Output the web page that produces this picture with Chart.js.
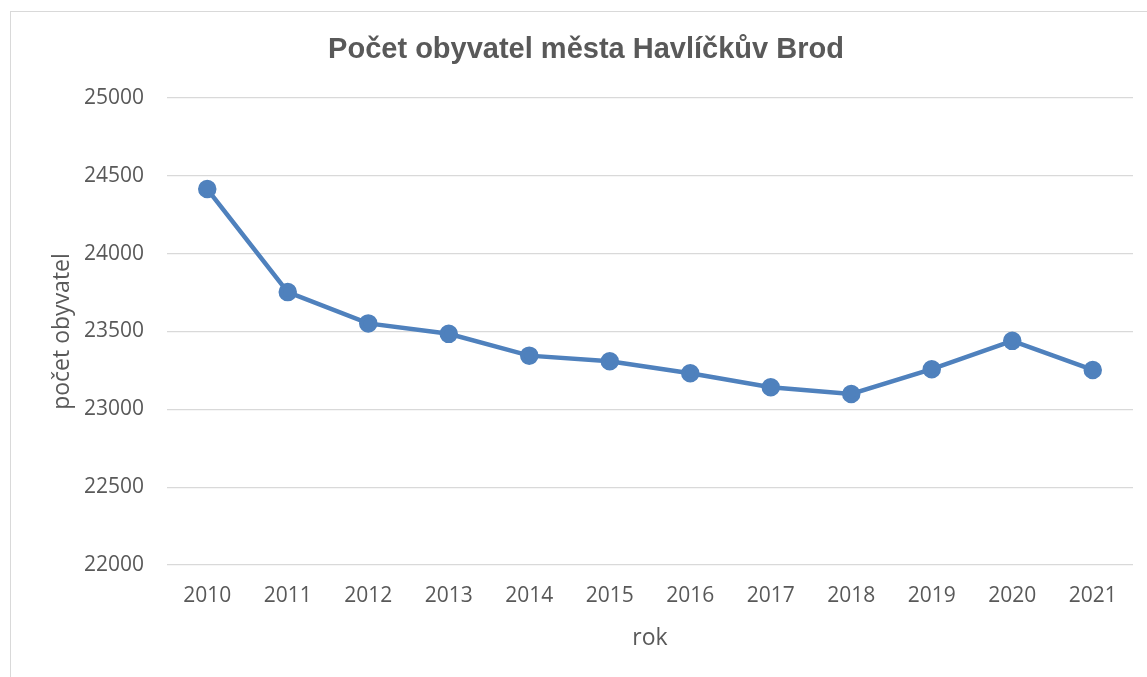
<!DOCTYPE html>
<html>
<head>
<meta charset="utf-8">
<script src="https://cdn.jsdelivr.net/npm/chart.js@4"></script>
<style>
  html, body { margin: 0; padding: 0; background: #fff; overflow: hidden; }
  #frame { position: absolute; left: 10px; top: 11px; width: 1150px; height: 700px; border: 1px solid #d9d9d9; }
</style>
</head>
<body>
<div id="frame"><canvas id="chartObyvatel" width="1150" height="700"></canvas></div>
<script>
const roky = ['2010', '2011', '2012', '2013', '2014', '2015', '2016', '2017', '2018', '2019', '2020', '2021'];
const obyvatele = [24415, 23753, 23552, 23485, 23345, 23309, 23232, 23142, 23099, 23258, 23440, 23253];
const osaY = [22000, 22500, 23000, 23500, 24000, 24500, 25000];

const textColor = '#595959';
const ctx = document.getElementById('chartObyvatel');

new Chart(ctx, {
    type: 'line',
    data: {
        labels: roky,
        datasets: [{
            label: 'počet obyvatel',
            data: obyvatele,
            borderColor: '#4f81bd',
            backgroundColor: '#4f81bd',
            borderWidth: 4.5,
            pointRadius: 7,
            pointHoverRadius: 7,
            tension: 0
        }]
    },
    options: {
        responsive: false,
        animation: false,
        // same padding on both sides so the title sits in the middle of the frame
        layout: { padding: { left: 28, right: 28, top: 0, bottom: 0 } },
        plugins: {
            legend: { display: false },
            tooltip: { enabled: false },
            title: {
                display: true,
                text: 'Počet obyvatel města Havlíčkův Brod',
                color: textColor,
                font: { family: '"Liberation Sans", Arial, sans-serif', size: 29, weight: 'bold' },
                padding: { top: 21, bottom: 30.2 }
            }
        },
        scales: {
            x: {
                offset: true,
                border: { display: false },
                grid: { display: false, drawTicks: false },
                ticks: {
                    color: textColor,
                    font: { family: '"Open Sans", sans-serif', size: 21 },
                    padding: 18,
                    maxRotation: 0
                },
                title: {
                    display: true,
                    text: 'rok',
                    color: textColor,
                    font: { family: '"Open Sans", sans-serif', size: 23 },
                    padding: { top: 0, bottom: 60 }
                },
                afterFit: scale => { scale.height = 147; }
            },
            y: {
                min: 22000,
                max: 25000,
                border: { display: false },
                grid: { color: '#d9d9d9', lineWidth: 1.3, drawTicks: false },
                afterBuildTicks: scale => { scale.ticks = osaY.map(v => ({ value: v })); },
                ticks: {
                    color: textColor,
                    font: { family: '"Open Sans", sans-serif', size: 21 },
                    padding: 23,
                    callback: v => String(v)
                },
                title: {
                    display: true,
                    text: 'počet obyvatel',
                    color: textColor,
                    font: { family: '"Open Sans", sans-serif', size: 23 },
                    padding: { top: 10, bottom: 0 }
                },
                afterFit: scale => { scale.width = 128; }
            }
        }
    }
});
</script>
</body>
</html>
